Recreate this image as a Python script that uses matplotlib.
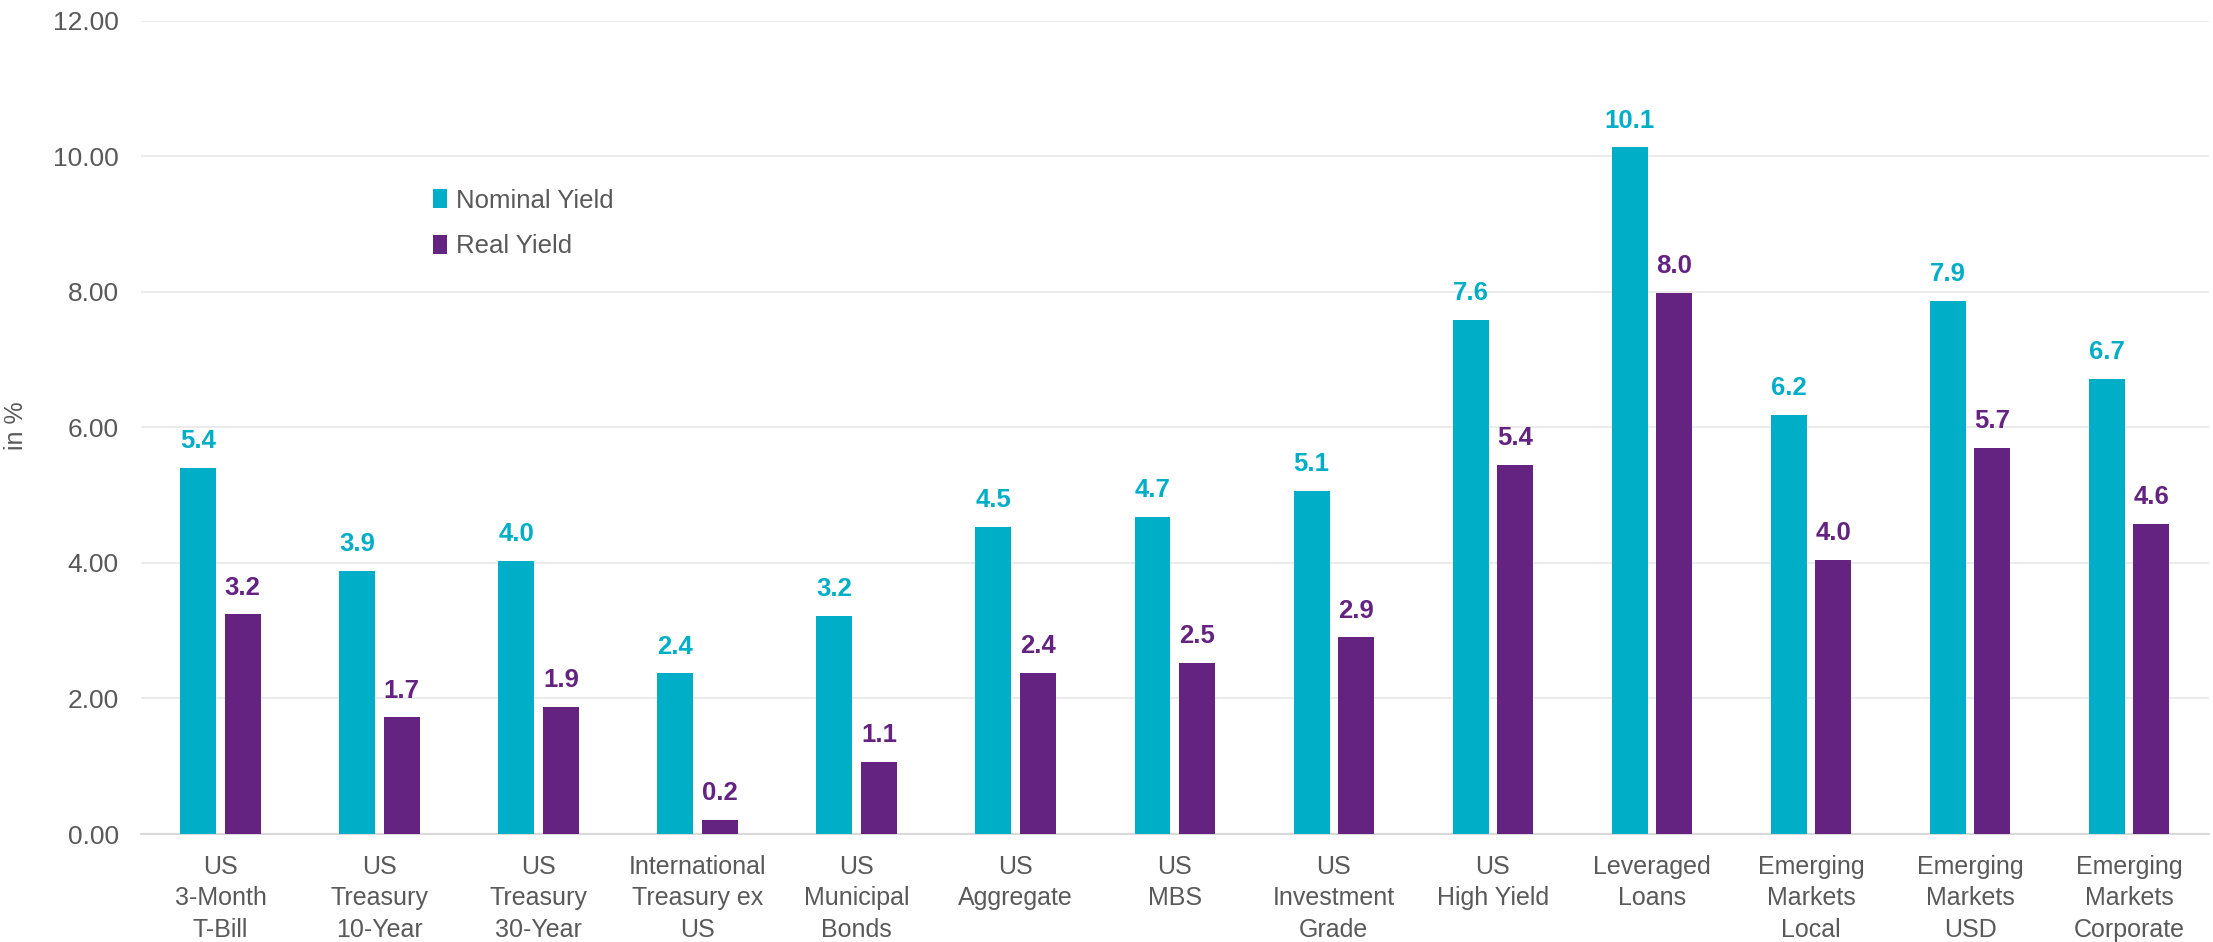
import matplotlib.pyplot as plt
import numpy as np

plt.rcParams['font.family'] = ['Liberation Sans', 'DejaVu Sans']

# yield data (in %)
categories = ['US\n3-Month\nT-Bill', 'US\nTreasury\n10-Year', 'US\nTreasury\n30-Year',
              'International\nTreasury ex\nUS', 'US\nMunicipal\nBonds', 'US\nAggregate',
              'US\nMBS', 'US\nInvestment\nGrade', 'US\nHigh Yield', 'Leveraged\nLoans',
              'Emerging\nMarkets\nLocal', 'Emerging\nMarkets\nUSD', 'Emerging\nMarkets\nCorporate']
nominal = [5.40, 3.88, 4.03, 2.37, 3.22, 4.53, 4.68, 5.06, 7.59, 10.13, 6.19, 7.86, 6.72]
real = [3.24, 1.72, 1.88, 0.21, 1.06, 2.38, 2.53, 2.90, 5.44, 7.98, 4.04, 5.70, 4.57]
yticks = [0, 2, 4, 6, 8, 10, 12]

cyan = '#00AEC7'
purple = '#642281'
gray = '#595959'

fig = plt.figure(figsize=(22.13, 9.42), dpi=100)
ax = fig.add_axes([0.0637, 0.1146, 0.9343, 0.8634])

x = np.arange(len(categories))
w = 0.226
off = 0.14
ax.bar(x - off, nominal, w, color=cyan, label='Nominal Yield', zorder=3)
ax.bar(x + off, real, w, color=purple, label='Real Yield', zorder=3)

for i in range(len(x)):
    ax.text(x[i] - off, nominal[i] + 0.22, f'{nominal[i]:.1f}', ha='center', va='bottom',
            color=cyan, fontsize=18.5, fontweight='bold')
    ax.text(x[i] + off, real[i] + 0.22, f'{real[i]:.1f}', ha='center', va='bottom',
            color=purple, fontsize=18.5, fontweight='bold')

ax.set_xlim(-0.5, len(categories) - 0.5)
ax.set_ylim(0, 12)
ax.set_yticks(yticks)
ax.set_yticklabels([f'{v:.2f}' for v in yticks], fontsize=19, color=gray)
ax.set_xticks(x)
ax.set_xticklabels(categories, fontsize=18, color=gray, linespacing=1.4)
ax.tick_params(length=0)
ax.tick_params(axis='x', pad=15)
ax.tick_params(axis='y', pad=16)
ax.grid(axis='y', color='#EBEBEB', linewidth=1.5, zorder=0)
for s in ['top', 'right', 'left']:
    ax.spines[s].set_visible(False)
ax.spines['bottom'].set_color('#D9D9D9')
ax.spines['bottom'].set_linewidth(1.5)

ax.set_ylabel('in %', fontsize=18, color=gray)
ax.yaxis.set_label_coords(-0.0547, 0.502)

ax.legend(loc='upper left', bbox_to_anchor=(0.13, 0.822), frameon=False, fontsize=18.5,
          handlelength=0.55, handleheight=0.75, handletextpad=0.35, labelspacing=0.85,
          labelcolor=gray)

fig.savefig('out.png', dpi=100)
